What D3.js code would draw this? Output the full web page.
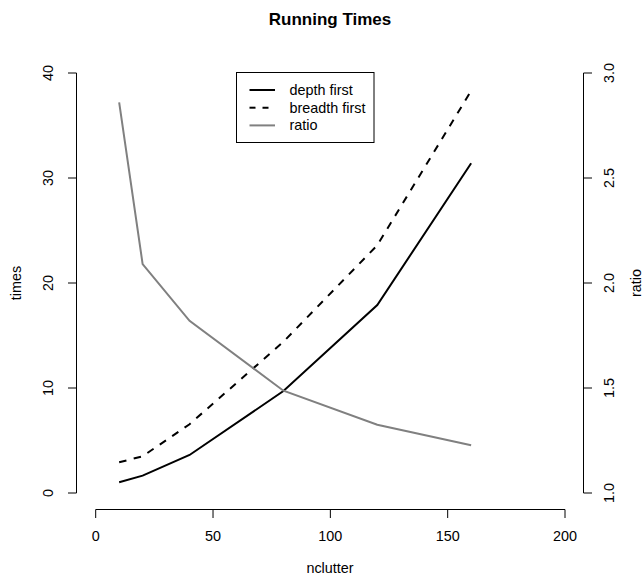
<!DOCTYPE html>
<html>
<head>
<meta charset="utf-8">
<script src="https://d3js.org/d3.v7.min.js"></script>
<style>
  body { margin: 0; background: #fff; }
  text { font-family: "Liberation Sans", Arial, Helvetica, sans-serif; fill: #000; }
</style>
</head>
<body>
<svg id="chart" width="643" height="577"></svg>
<script>
// values
let nclutter     = [10, 20, 40, 80, 120, 160];
let depthFirst   = [1.02, 1.65, 3.62, 9.71, 17.9, 31.4];
let breadthFirst = [2.92, 3.5, 6.55, 14.4, 23.6, 38.3];
let ratio        = [2.86, 2.09, 1.82, 1.487, 1.325, 1.227];

let xTicks = [0, 50, 100, 150, 200];
let timeTicks = [0, 10, 20, 30, 40];
let ratioTicks = [1.0, 1.5, 2.0, 2.5, 3.0];
let legendNames = ["depth first", "breadth first", "ratio"];

let svg = d3.select("#chart");
let fontSize = 14.4;

let x = d3.scaleLinear().domain([0, 200]).range([95.7, 565]);
let yT = d3.scaleLinear().domain([0, 40]).range([493, 73]);
let yR = d3.scaleLinear().domain([1, 3]).range([493, 73]);

// title
svg.append("text")
    .attr("x", 330).attr("y", 25)
    .attr("text-anchor", "middle")
    .attr("font-weight", "bold")
    .attr("font-size", 17)
    .text("Running Times");

// bottom axis (R style: line only spans the ticks)
let bottom = svg.append("g").attr("transform", "translate(0,509.5)");
bottom.append("line")
    .attr("x1", x(0)).attr("x2", x(200))
    .attr("stroke", "#000");
bottom.selectAll(".tk").data(xTicks).enter().append("line")
    .attr("x1", d => x(d)).attr("x2", d => x(d))
    .attr("y1", 0).attr("y2", 8.5)
    .attr("stroke", "#000");
bottom.selectAll(".lb").data(xTicks).enter().append("text")
    .attr("x", d => x(d)).attr("y", 31.5)
    .attr("text-anchor", "middle")
    .attr("font-size", fontSize)
    .text(d => d);

svg.append("text")
    .attr("x", 330).attr("y", 573)
    .attr("text-anchor", "middle")
    .attr("font-size", fontSize)
    .text("nclutter");

// left axis
let left = svg.append("g").attr("transform", "translate(76.5,0)");
left.append("line")
    .attr("y1", yT(0)).attr("y2", yT(40))
    .attr("stroke", "#000");
left.selectAll(".tk").data(timeTicks).enter().append("line")
    .attr("y1", d => yT(d)).attr("y2", d => yT(d))
    .attr("x1", 0).attr("x2", -8.5)
    .attr("stroke", "#000");
left.selectAll(".lb").data(timeTicks).enter().append("text")
    .attr("transform", d => "translate(-24," + yT(d) + ") rotate(-90)")
    .attr("text-anchor", "middle")
    .attr("font-size", fontSize)
    .text(d => d);

svg.append("text")
    .attr("transform", "translate(20.5,283) rotate(-90)")
    .attr("text-anchor", "middle")
    .attr("font-size", fontSize)
    .text("times");

// right axis
let right = svg.append("g").attr("transform", "translate(583.5,0)");
right.append("line")
    .attr("y1", yR(1)).attr("y2", yR(3))
    .attr("stroke", "#000");
right.selectAll(".tk").data(ratioTicks).enter().append("line")
    .attr("y1", d => yR(d)).attr("y2", d => yR(d))
    .attr("x1", 0).attr("x2", 8.5)
    .attr("stroke", "#000");
right.selectAll(".lb").data(ratioTicks).enter().append("text")
    .attr("transform", d => "translate(30.5," + yR(d) + ") rotate(-90)")
    .attr("text-anchor", "middle")
    .attr("font-size", fontSize)
    .text(d => d.toFixed(1));

svg.append("text")
    .attr("transform", "translate(641,283) rotate(-90)")
    .attr("text-anchor", "middle")
    .attr("font-size", fontSize)
    .text("ratio");

// lines
let lineT = d3.line().x((d, i) => x(nclutter[i])).y(d => yT(d));
let lineR = d3.line().x((d, i) => x(nclutter[i])).y(d => yR(d));

svg.append("path")
    .attr("d", lineT(depthFirst))
    .attr("fill", "none").attr("stroke", "#000").attr("stroke-width", 2);

svg.append("path")
    .attr("d", lineT(breadthFirst))
    .attr("fill", "none").attr("stroke", "#000").attr("stroke-width", 2)
    .attr("stroke-dasharray", "7.5,7.5");

svg.append("path")
    .attr("d", lineR(ratio))
    .attr("fill", "none").attr("stroke", "#808080").attr("stroke-width", 2);

// legend
let legend = svg.append("g");
legend.append("rect")
    .attr("x", 236.5).attr("y", 72.5)
    .attr("width", 137.5).attr("height", 70)
    .attr("fill", "#fff").attr("stroke", "#000");

let styles = [
    {color: "#000", dash: null},
    {color: "#000", dash: "7.5,7.5"},
    {color: "#808080", dash: null}
];
let rows = legend.selectAll(".row").data(legendNames).enter().append("g")
    .attr("transform", (d, i) => "translate(0," + (90 + i * 17.7) + ")");
rows.append("line")
    .attr("x1", 249.5).attr("x2", 275)
    .attr("stroke", (d, i) => styles[i].color)
    .attr("stroke-width", 2)
    .attr("stroke-dasharray", (d, i) => styles[i].dash ? "6,7" : null);
rows.append("text")
    .attr("x", 289.5).attr("y", 5)
    .attr("font-size", fontSize)
    .text(d => d);
</script>
</body>
</html>
